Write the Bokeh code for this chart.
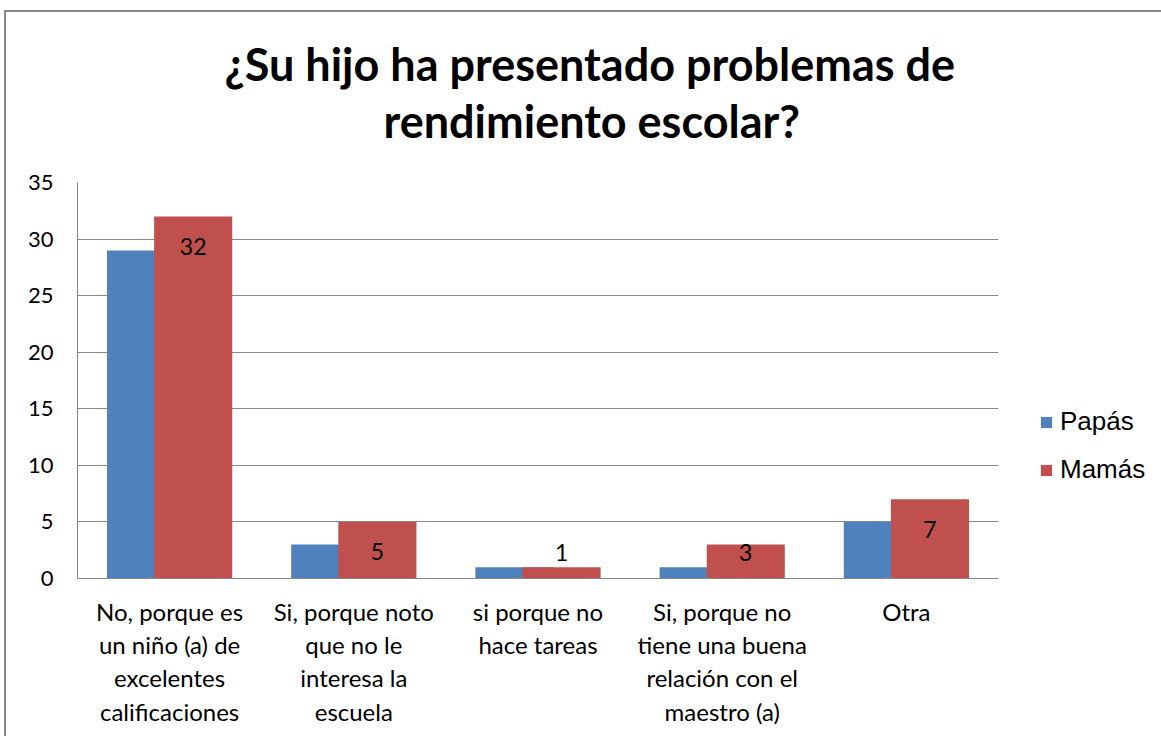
from bokeh.plotting import figure
from bokeh.models import (FactorRange, Title, Legend, LegendItem, ColumnDataSource,
                          FixedTicker, Range1d)
from bokeh.transform import dodge
from bokeh.core.properties import value
from bokeh.embed import file_html
from bokeh.resources import INLINE

categories = [
    "No, porque es\nun niño (a) de\nexcelentes\ncalificaciones",
    "Si, porque noto\nque no le\ninteresa la\nescuela",
    "si porque no\nhace tareas",
    "Si, porque no\ntiene una buena\nrelación con el\nmaestro (a)",
    "Otra",
]
papas = [29, 3, 1, 1, 5]
mamas = [32, 5, 1, 3, 7]
y_ticks = [0, 5, 10, 15, 20, 25, 30, 35]
title_line1 = "¿Su hijo ha presentado problemas de"
title_line2 = "rendimiento escolar?"

BLUE = "#4F81BD"
RED = "#C0504D"
GRID = "#878787"

label_y = [max(v - 2.65, 2.3) for v in mamas]
src = ColumnDataSource(dict(cat=categories, papas=papas, mamas=mamas,
                            label=[str(v) for v in mamas], label_y=label_y))

p = figure(x_range=FactorRange(*categories, range_padding=0),
           y_range=Range1d(0, 35),
           frame_width=921, frame_height=396,
           output_backend="svg", toolbar_location=None,
           min_border_left=71, min_border_right=163, min_border_top=170,
           min_border_bottom=158)
p.styles = {"border-top": "2px solid #898989", "border-left": "2px solid #898989",
            "margin-left": "4px", "margin-top": "10px"}
p.outline_line_color = None
p.background_fill_color = "white"
p.border_fill_color = "white"

r1 = p.vbar(x=dodge("cat", -0.128, range=p.x_range), top="papas", width=0.424,
            source=src, fill_color=BLUE, line_color=None)
r2 = p.vbar(x=dodge("cat", 0.128, range=p.x_range), top="mamas", width=0.424,
            source=src, fill_color=RED, line_color=None)
p.text(x=dodge("cat", 0.128, range=p.x_range), y="label_y", text="label", source=src,
       text_align="center", text_baseline="middle", text_font=value("Lato"),
       text_font_size="23px", text_color="black")

p.xgrid.grid_line_color = None
p.ygrid.grid_line_color = GRID
p.ygrid.grid_line_width = 1
p.ygrid.ticker = FixedTicker(ticks=y_ticks)

p.yaxis.ticker = FixedTicker(ticks=y_ticks)
p.yaxis.axis_line_color = GRID
p.yaxis.major_tick_line_color = None
p.yaxis.minor_tick_line_color = None
p.yaxis.major_tick_out = 0
p.yaxis.major_tick_in = 0
p.yaxis.major_label_standoff = 24
p.yaxis.major_label_text_font = "Lato"
p.yaxis.major_label_text_font_size = "22px"
p.yaxis.major_label_text_color = "black"

p.xaxis.axis_line_color = GRID
p.xaxis.major_tick_line_color = None
p.xaxis.major_tick_out = 0
p.xaxis.major_tick_in = 0
p.xaxis.major_label_standoff = 18
p.xaxis.major_label_text_font = "Lato"
p.xaxis.major_label_text_font_size = "24px"
p.xaxis.major_label_text_color = "black"
p.xaxis.major_label_text_line_height = 1.15
p.xaxis.major_label_orientation = "horizontal"

spacer = Title(text=" ", text_font_size="1px", standoff=31)
t2 = Title(text=title_line2, align="left", offset=306, text_font="Lato",
           text_font_size="45px", text_font_style="bold", text_color="black",
           standoff=1)
t1 = Title(text=title_line1, align="left", offset=147, text_font="Lato",
           text_font_size="45px", text_font_style="bold", text_color="black",
           standoff=1)
p.add_layout(spacer, "above")
p.add_layout(t2, "above")
p.add_layout(t1, "above")

legend = Legend(items=[LegendItem(label="Papás", renderers=[r1]),
                       LegendItem(label="Mamás", renderers=[r2])],
                location=(41, 93), glyph_width=14, glyph_height=14,
                label_text_font="Liberation Sans", label_text_font_size="26px",
                label_text_color="black",
                label_standoff=7, spacing=17, padding=0, margin=0,
                border_line_color=None, background_fill_alpha=0)
p.add_layout(legend, "right")

open("out.html", "w").write(file_html(p, INLINE))
